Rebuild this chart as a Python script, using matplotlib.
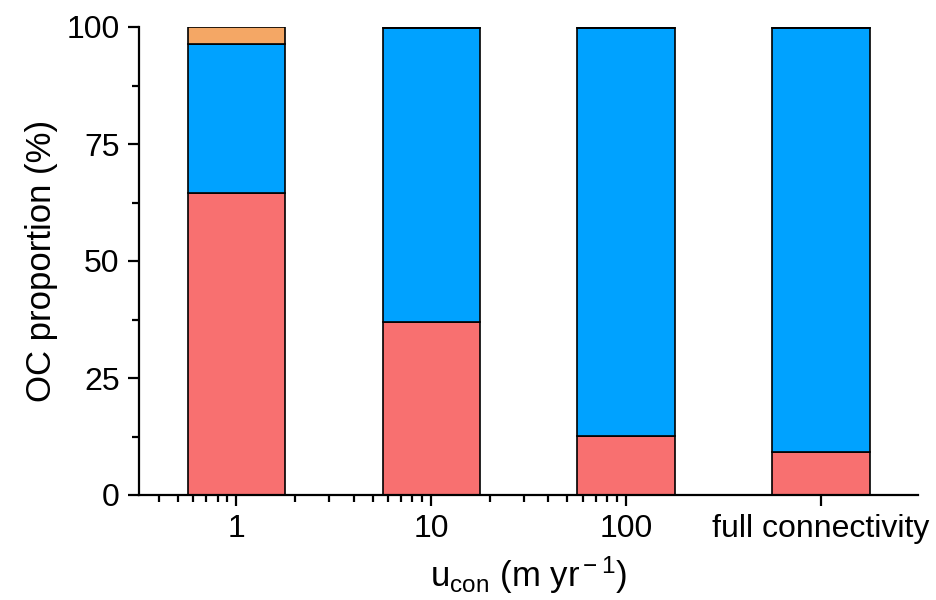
import numpy as np
import matplotlib.pyplot as plt
from matplotlib.ticker import FixedLocator, NullFormatter

plt.rcParams['font.family'] = ['Liberation Sans', 'DejaVu Sans']
plt.rcParams['mathtext.fontset'] = 'custom'
plt.rcParams['mathtext.rm'] = 'Liberation Sans'
plt.rcParams['mathtext.it'] = 'Liberation Sans'

# data (percent of OC)
u_con = [1, 10, 100, 1000]
tick_labels = ['1', '10', '100', 'full connectivity']
red_part = [64.5, 37.0, 12.7, 9.2]
blue_part = [31.9, 62.7, 87.0, 90.5]
orange_part = [3.6, 0.3, 0.3, 0.3]

c_red = '#F87070'
c_blue = '#00A2FF'
c_orange = '#F4A765'

fig = plt.figure(figsize=(9.36, 6), dpi=100)
ax = fig.add_axes([0.1485, 0.175, 0.8325, 0.78])

x = np.array(u_con, dtype=float)
left = x / 10**0.25
width = x * 10**0.25 - left
red = np.array(red_part)
blue = np.array(blue_part)
orange = np.array(orange_part)

kw = dict(align='edge', edgecolor='black', linewidth=1.2)
ax.bar(left, red, width, color=c_red, **kw)
ax.bar(left, blue, width, bottom=red, color=c_blue, **kw)
ax.bar(left, orange, width, bottom=red + blue, color=c_orange, **kw)

ax.set_xscale('log')
ax.set_xlim(10**-0.5, 10**3.5)
ax.set_ylim(0, 100)

ax.xaxis.set_major_locator(FixedLocator(u_con))
ax.set_xticklabels(tick_labels)
minors = [m * d for d in (0.1, 1, 10) for m in range(2, 10) if m * d >= 0.4]
ax.xaxis.set_minor_locator(FixedLocator(minors))
ax.xaxis.set_minor_formatter(NullFormatter())

ax.set_yticks([0, 25, 50, 75, 100])
ax.set_yticks([12.5, 37.5, 62.5, 87.5], minor=True)

for s in ['top', 'right']:
    ax.spines[s].set_visible(False)
for s in ['left', 'bottom']:
    ax.spines[s].set_linewidth(1.6)

ax.tick_params(which='major', direction='out', length=8, width=1.6, labelsize=23, pad=6)
ax.tick_params(which='minor', direction='out', length=5, width=1.6)

ax.set_ylabel('OC proportion (%)', fontsize=25, labelpad=6)
ax.set_xlabel(r'u$_{\rm con}$ (m yr$^{\rm -1}$)', fontsize=25, labelpad=7)

fig.savefig('out.png', dpi=100)
